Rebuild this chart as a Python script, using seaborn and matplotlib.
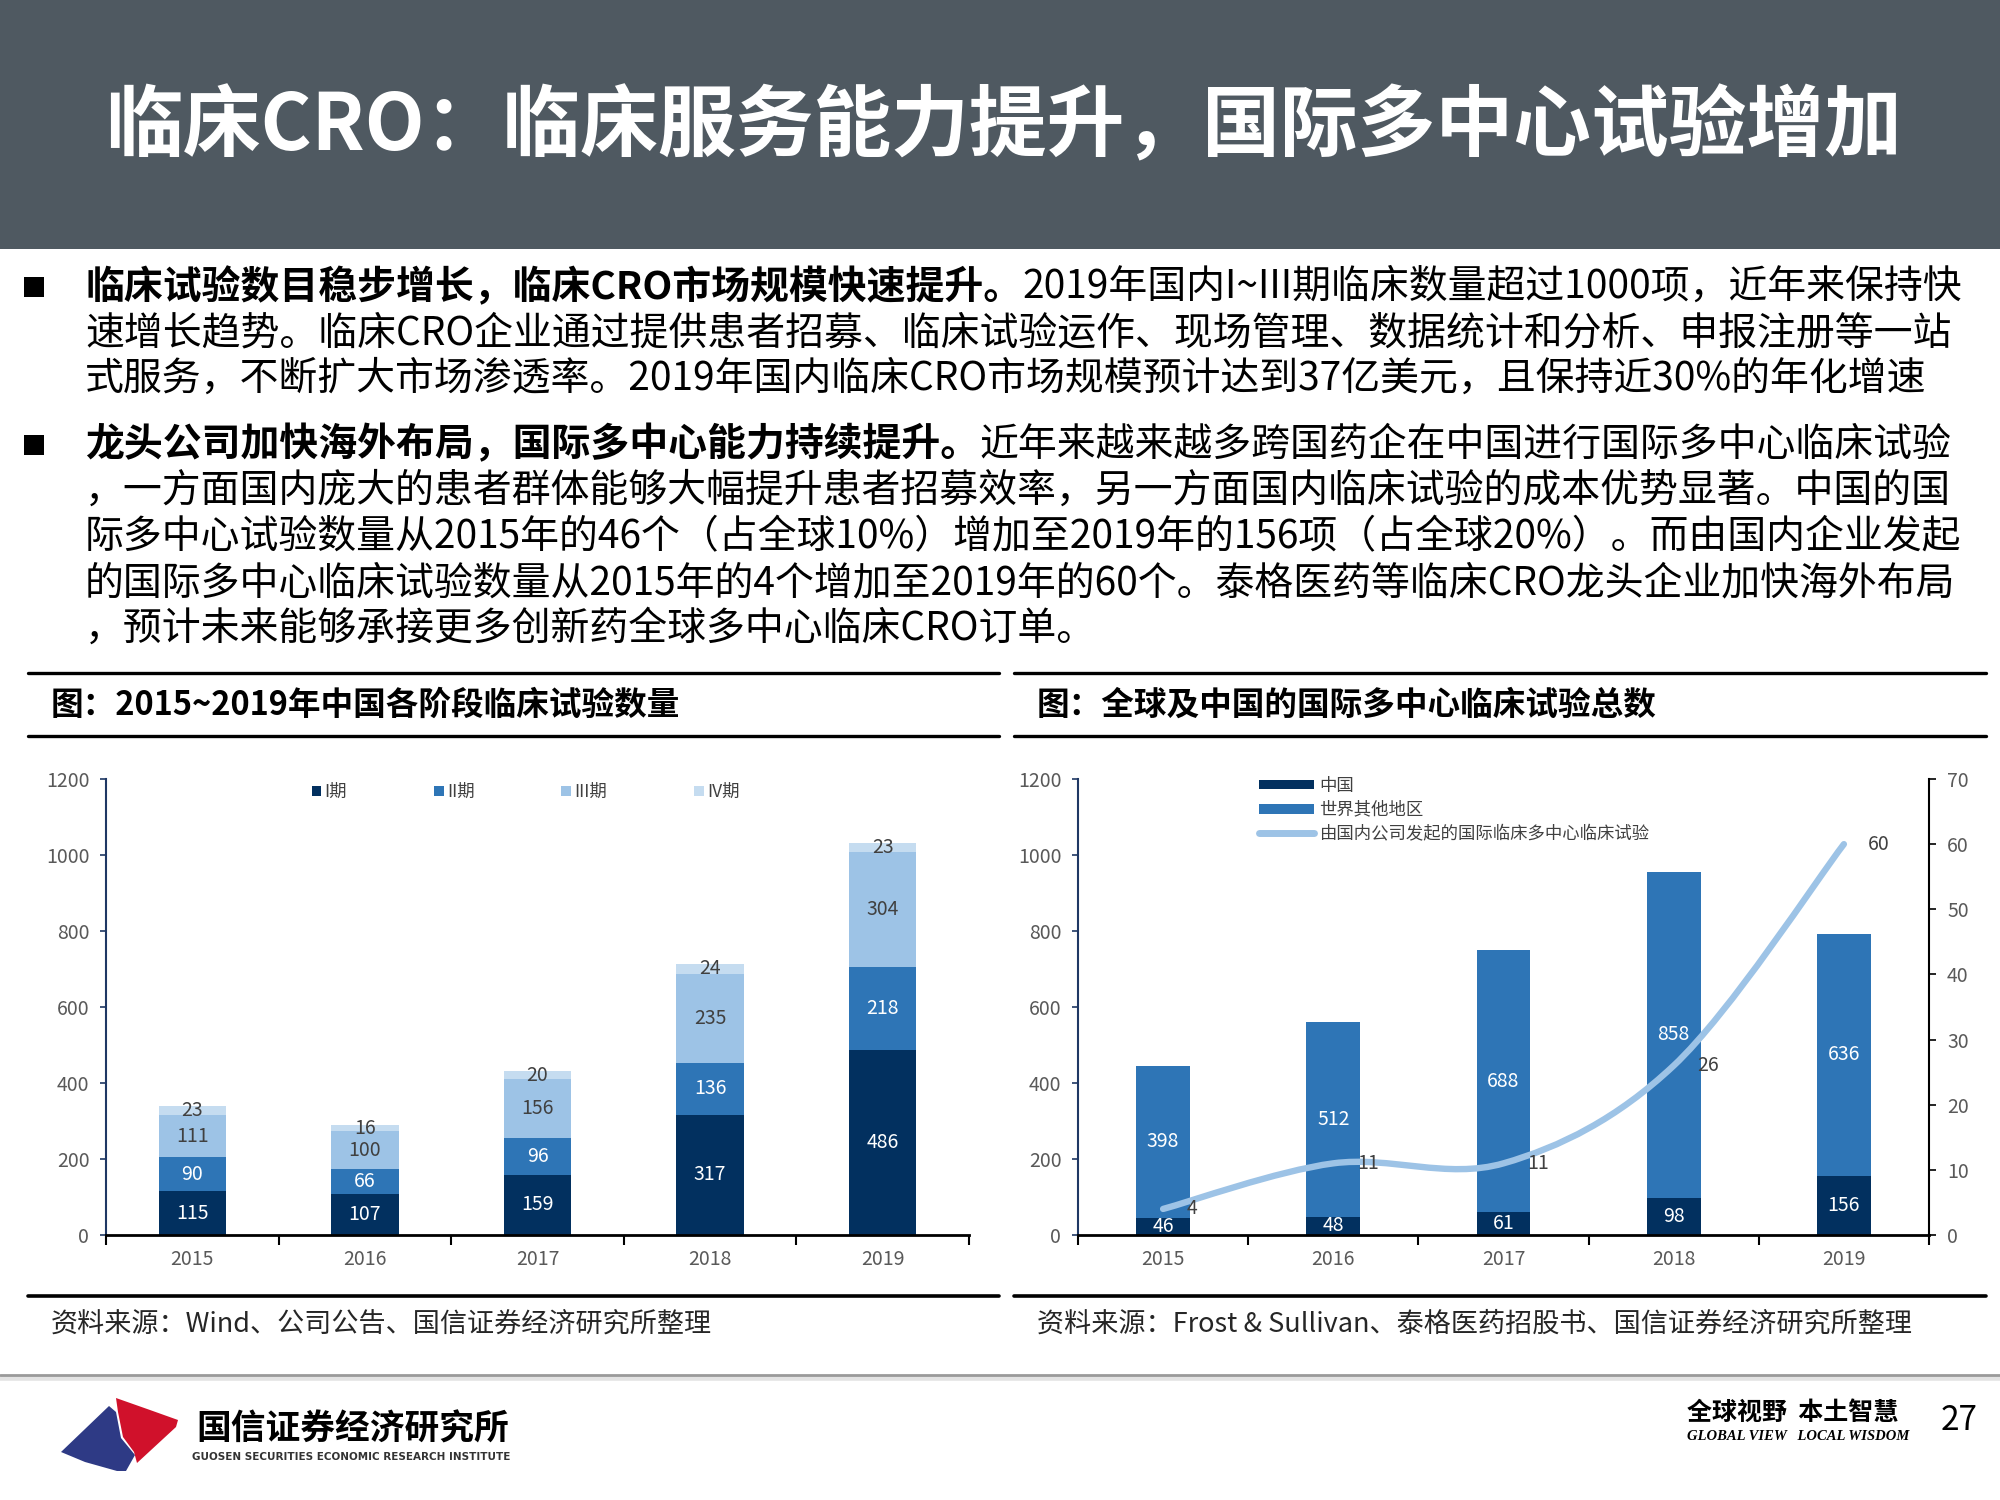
"""
临床CRO slide: stacked bars of trials by phase + international multi-center trials
"""

import numpy as np
import matplotlib
matplotlib.use("Agg")
import matplotlib.pyplot as plt
from matplotlib.patches import Rectangle, Patch, Polygon, PathPatch
from matplotlib.lines import Line2D
from matplotlib.path import Path
from matplotlib.text import Annotation
import seaborn as sns

# ---- data -------------------------------------------------------------
years = ['2015', '2016', '2017', '2018', '2019']

# left chart: trials by phase
phase1 = [115, 107, 159, 317, 486]
phase2 = [90, 66, 96, 136, 218]
phase3 = [111, 100, 156, 235, 304]
phase4 = [23, 16, 20, 24, 23]
phase_names = ['I期', 'II期', 'III期', 'IV期']

# right chart: international multi-center trials
mrct_china = [46, 48, 61, 98, 156]
mrct_world = [398, 512, 688, 858, 636]
mrct_domestic = [4, 11, 11, 26, 60]
mrct_names = ['中国', '世界其他地区', '由国内公司发起的国际临床多中心临床试验']

left_yticks = [0, 200, 400, 600, 800, 1000, 1200]
right_yticks = [0, 10, 20, 30, 40, 50, 60, 70]

# ---- style --------------------------------------------------------------
sns.set_theme(style='white')
plt.rcParams['font.family'] = ['Noto Sans CJK SC', 'DejaVu Sans']

C1 = '#02305f'
C2 = '#2e75b6'
C3 = '#9dc3e6'
C4 = '#c5dcf0'
GRAY = '#595959'
NAVY = '#1f3864'
HEADER = '#4f5961'

W, H = 2000, 1500
fig = plt.figure(figsize=(20, 15), dpi=100)
fig.patch.set_facecolor('white')


def fx(px):
    return px / W


def fy(px):
    return 1 - px / H


def rule(x0, x1, y, lw=2.4, color='black'):
    fig.add_artist(Line2D([fx(x0), fx(x1)], [fy(y), fy(y)], color=color, lw=lw,
                          transform=fig.transFigure))


# ---- header -------------------------------------------------------------
fig.add_artist(Rectangle((0, fy(249)), 1, 249 / H, transform=fig.transFigure,
                         facecolor=HEADER, edgecolor='none'))
fig.text(fx(105), fy(128), '临床CRO：临床服务能力提升，国际多中心试验增加',
         color='white', fontsize=56, fontweight='bold', va='center', ha='left')

# ---- body text ----------------------------------------------------------
BODY = 28
paragraphs = [
    ('临床试验数目稳步增长，临床CRO市场规模快速提升。',
     '2019年国内I~III期临床数量超过1000项，近年来保持快',
     ['速增长趋势。临床CRO企业通过提供患者招募、临床试验运作、现场管理、数据统计和分析、申报注册等一站',
      '式服务，不断扩大市场渗透率。2019年国内临床CRO市场规模预计达到37亿美元，且保持近30%的年化增速'],
     287),
    ('龙头公司加快海外布局，国际多中心能力持续提升。',
     '近年来越来越多跨国药企在中国进行国际多中心临床试验',
     ['，一方面国内庞大的患者群体能够大幅提升患者招募效率，另一方面国内临床试验的成本优势显著。中国的国',
      '际多中心试验数量从2015年的46个（占全球10%）增加至2019年的156项（占全球20%）。而由国内企业发起',
      '的国际多中心临床试验数量从2015年的4个增加至2019年的60个。泰格医药等临床CRO龙头企业加快海外布局',
      '，预计未来能够承接更多创新药全球多中心临床CRO订单。'],
     445),
]
LINE_GAP = 46
for bold, rest, lines, y0 in paragraphs:
    fig.add_artist(Rectangle((fx(24), fy(y0 + 10)), 20 / W, 20 / H,
                             transform=fig.transFigure, facecolor='black',
                             edgecolor='none'))
    t = fig.text(fx(85), fy(y0), bold, fontsize=BODY, fontweight='bold',
                 va='center', ha='left', color='black')
    # regular part placed right after the bold part
    fig.add_artist(Annotation(rest, xy=(1, 0.5), xycoords=t, va='center',
                              ha='left', fontsize=BODY, color='black'))
    for k, line in enumerate(lines):
        fig.text(fx(85), fy(y0 + LINE_GAP * (k + 1)), line, fontsize=BODY,
                 va='center', ha='left', color='black')

# ---- section rules, titles, sources ---------------------------------------
for x0, x1 in [(28, 999), (1014, 1986)]:
    rule(x0, x1, 673)
    rule(x0, x1, 736)
    rule(x0, x1, 1296, lw=2.6)

fig.text(fx(51), fy(705), '图：2015~2019年中国各阶段临床试验数量', fontsize=23.5,
         fontweight='bold', va='center', ha='left', color='black')
fig.text(fx(1037), fy(705), '图：全球及中国的国际多中心临床试验总数', fontsize=23.5,
         fontweight='bold', va='center', ha='left', color='black')
fig.text(fx(51), fy(1324), '资料来源：Wind、公司公告、国信证券经济研究所整理',
         fontsize=19.5, va='center', ha='left', color='#262626')
fig.text(fx(1037), fy(1324), '资料来源：Frost & Sullivan、泰格医药招股书、国信证券经济研究所整理',
         fontsize=19.5, va='center', ha='left', color='#262626')


def style_axis(ax):
    ax.set_xlim(-0.5, len(years) - 0.5)
    ax.set_xticks(range(len(years)))
    ax.set_xticklabels(years)
    ax.set_xticks(np.arange(-0.5, len(years)), minor=True)
    ax.tick_params(axis='x', which='major', length=0, pad=10, labelsize=14,
                   labelcolor=GRAY)
    ax.tick_params(axis='x', which='minor', length=7, width=1.5, color='black',
                   direction='out', bottom=True)
    ax.tick_params(axis='y', which='major', length=4, width=1.2, color=NAVY,
                   left=True, pad=8, labelsize=14, labelcolor=GRAY)
    ax.spines['bottom'].set_color('black')
    ax.spines['bottom'].set_linewidth(2)
    ax.spines['left'].set_color(NAVY)
    ax.spines['left'].set_linewidth(1.5)
    ax.spines['top'].set_visible(False)
    ax.spines['right'].set_visible(False)
    ax.set_xlabel('')
    ax.set_ylabel('')
    ax.grid(False)


# ---- left chart: stacked bars ---------------------------------------------
axl = fig.add_axes([fx(106), fy(1235), fx(969) - fx(106), (1235 - 779) / H])
layers = [phase1, phase2, phase3, phase4]
colors = [C1, C2, C3, C4]
cum = np.cumsum(np.array(layers), axis=0)
for k in range(len(layers) - 1, -1, -1):
    sns.barplot(x=years, y=cum[k], color=colors[k], width=0.39, saturation=1,
                errorbar=None, ax=axl, edgecolor='none')
for k, vals in enumerate(layers):
    bottoms = cum[k] - np.array(vals)
    for i, v in enumerate(vals):
        axl.text(i, bottoms[i] + v / 2, str(v), ha='center', va='center',
                 fontsize=14, color='white' if k < 2 else '#404040')
axl.set_ylim(0, 1200)
axl.set_yticks(left_yticks)
style_axis(axl)
handles = [Patch(facecolor=c, edgecolor='none', label=n)
           for c, n in zip(colors, phase_names)]
axl.legend(handles=handles, loc='center left', ncol=4, frameon=False,
           bbox_to_anchor=(fx(296), fy(792)), bbox_transform=fig.transFigure,
           fontsize=12.5, handlelength=0.55, handleheight=0.55,
           handletextpad=0.2, columnspacing=5.0, labelcolor='#404040')

# ---- right chart: bars + smooth line on twin axis -------------------------
axr = fig.add_axes([fx(1078), fy(1235), fx(1929) - fx(1078), (1235 - 779) / H])
mrct_total = np.array(mrct_china) + np.array(mrct_world)
sns.barplot(x=years, y=mrct_total, color=C2, width=0.315, saturation=1,
            errorbar=None, ax=axr, edgecolor='none')
sns.barplot(x=years, y=mrct_china, color=C1, width=0.315, saturation=1,
            errorbar=None, ax=axr, edgecolor='none')
for i in range(len(years)):
    axr.text(i, mrct_china[i] / 2, str(mrct_china[i]), ha='center', va='center',
             fontsize=14, color='white')
    axr.text(i, mrct_china[i] + mrct_world[i] / 2, str(mrct_world[i]),
             ha='center', va='center', fontsize=14, color='white')
axr.set_ylim(0, 1200)
axr.set_yticks(left_yticks)
style_axis(axr)

ax2 = axr.twinx()
ax2.set_ylim(0, 70)
ax2.set_yticks(right_yticks)
ax2.tick_params(axis='y', length=5, width=1.2, color='black', right=True,
                pad=8, labelsize=14, labelcolor=GRAY)
for side in ['top', 'left', 'bottom']:
    ax2.spines[side].set_visible(False)
ax2.spines['right'].set_color('black')
ax2.spines['right'].set_linewidth(1.5)
ax2.grid(False)

# Excel-style smoothed line (Catmull-Rom as cubic Bezier)
pts = np.column_stack([np.arange(len(years)), mrct_domestic]).astype(float)
verts = [tuple(pts[0])]
codes = [Path.MOVETO]
for i in range(len(pts) - 1):
    p0 = pts[i - 1] if i > 0 else pts[i]
    p1, p2 = pts[i], pts[i + 1]
    p3 = pts[i + 2] if i + 2 < len(pts) else pts[i + 1]
    verts += [tuple(p1 + (p2 - p0) / 6), tuple(p2 - (p3 - p1) / 6), tuple(p2)]
    codes += [Path.CURVE4] * 3
ax2.add_patch(PathPatch(Path(verts, codes), fill=False, edgecolor=C3, lw=4.6,
                        capstyle='round', transform=ax2.transData, zorder=3))
for i, v in enumerate(mrct_domestic):
    ax2.text(i + 0.14, v, str(v), ha='left', va='center', fontsize=14,
             color='#404040', zorder=4)

rhandles = [Patch(facecolor=C1, edgecolor='none', label=mrct_names[0]),
            Patch(facecolor=C2, edgecolor='none', label=mrct_names[1]),
            Line2D([0], [0], color=C3, lw=5, solid_capstyle='round',
                   label=mrct_names[2])]
ax2.legend(handles=rhandles, loc='upper left', frameon=False,
           bbox_to_anchor=(fx(1250), fy(768)), bbox_transform=fig.transFigure,
           fontsize=12.5, handlelength=3.2, handleheight=0.5, handletextpad=0.3,
           labelspacing=0.35, labelcolor='#404040', borderpad=0)

# ---- footer -------------------------------------------------------------
rule(0, 2000, 1378, lw=4, color='#e3e3e3')
rule(0, 2000, 1375, lw=2, color='#9a9a9a')

blue_logo = [(61, 1452), (109, 1406), (116, 1412), (121, 1438), (135, 1455),
             (126, 1471), (117, 1471), (85, 1462)]
red_logo = [(116, 1398), (150, 1410), (178, 1420), (176, 1427), (137, 1463),
            (134, 1452), (123, 1437), (118, 1412)]
for poly, col in [(blue_logo, '#2e3a85'), (red_logo, '#d0112b')]:
    fig.add_artist(Polygon([(fx(x), fy(y)) for x, y in poly], closed=True,
                           transform=fig.transFigure, facecolor=col,
                           edgecolor='none'))
fig.text(fx(196), fy(1429), '国信证券经济研究所', fontsize=25, fontweight='bold',
         va='center', ha='left', color='black')
fig.text(fx(192), fy(1457), 'GUOSEN SECURITIES ECONOMIC RESEARCH INSTITUTE',
         fontsize=7.5, fontweight='bold', va='center', ha='left',
         color='#333333', family='DejaVu Sans')
fig.text(fx(1687), fy(1413), '全球视野  本土智慧', fontsize=18,
         fontweight='bold', va='center', ha='left', color='black')
fig.text(fx(1687), fy(1437), 'GLOBAL VIEW   LOCAL WISDOM', fontsize=10.5,
         fontweight='bold', style='italic', va='center', ha='left',
         color='black', family='Liberation Serif')
fig.text(fx(1941), fy(1420), '27', fontsize=24, va='center', ha='left',
         color='black')

fig.savefig('out.png', dpi=100)
